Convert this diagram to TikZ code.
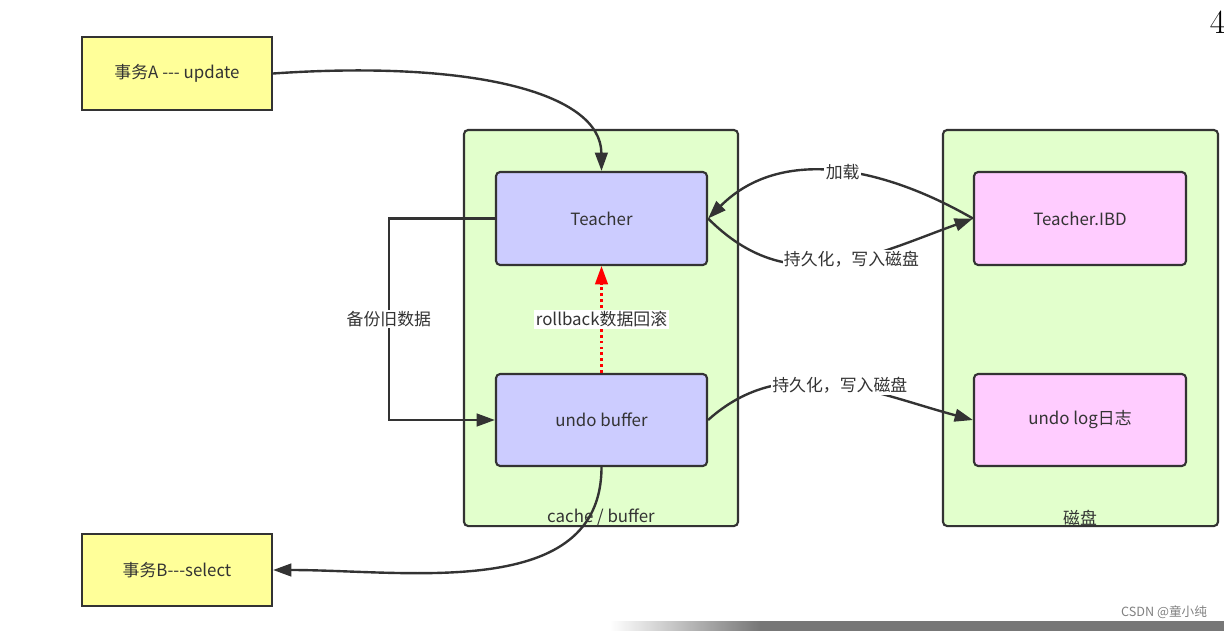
\documentclass[tikz,border=0pt]{standalone}
\usepackage{fontspec}
\newfontfamily\cjk{Noto Sans CJK SC}
\usepackage{xcolor}
\usepackage{tikz}
\usetikzlibrary{arrows.meta, positioning}
\definecolor{linegray}{HTML}{333333}
\definecolor{txtgray}{HTML}{333333}
\definecolor{memgreen}{HTML}{E2FFCC}
\definecolor{pagelila}{HTML}{CCCCFF}
\definecolor{diskpink}{HTML}{FFCCFF}
\definecolor{txyellow}{HTML}{FFFF99}
\definecolor{bargray}{HTML}{777777}

\begin{document}
\begin{tikzpicture}[x=0.025cm, y=-0.025cm, >={Triangle[length=13pt,width=9pt]},
    font=\cjk\fontsize{12}{14}\selectfont, text=txtgray,
    conn/.style={->, draw=linegray, line width=1.7pt},
    lbl/.style={fill=white, inner sep=1pt, text=txtgray}]
  \useasboundingbox (0,0) rectangle (1224,631);
  % containers
  \node[draw=linegray, fill=memgreen, line width=1.5pt, rounded corners=3pt,
        minimum width=6.85cm, minimum height=9.9cm] (cache) at (601,328) {};
  \node[draw=linegray, fill=memgreen, line width=1.5pt, rounded corners=3pt,
        minimum width=6.875cm, minimum height=9.9cm] (disk) at (1080.5,328) {};
  \node (cachelbl) at (601,517) {cache / buffer};
  \node (disklbl) at (1080,518) {磁盘};
  % transactions
  \node[draw=linegray, fill=txyellow, line width=1.5pt,
        minimum width=4.75cm, minimum height=1.825cm] (ta) at (177,73.5) {事务A --- update};
  \node[draw=linegray, fill=txyellow, line width=1.5pt,
        minimum width=4.75cm, minimum height=1.8cm] (tb) at (177,570) {事务B---select};
  % pages in memory and on disk
  \node[draw=linegray, fill=pagelila, line width=1.5pt, rounded corners=3pt,
        minimum width=5.275cm, minimum height=2.325cm] (teacher) at (601.5,218.5) {Teacher};
  \node[draw=linegray, fill=pagelila, line width=1.5pt, rounded corners=3pt,
        minimum width=5.275cm, minimum height=2.3cm] (undo) at (601.5,420) {undo buffer};
  \node[draw=linegray, fill=diskpink, line width=1.5pt, rounded corners=3pt,
        minimum width=5.3cm, minimum height=2.325cm] (ibd) at (1080,218.5) {Teacher.IBD};
  \node[draw=linegray, fill=diskpink, line width=1.5pt, rounded corners=3pt,
        minimum width=5.3cm, minimum height=2.3cm] (ulog) at (1080,420) {undo log日志};
  % A -> Teacher, undo -> B
  \draw[conn] (ta.east) .. controls (470,60) and (601,92) .. (teacher.north);
  \draw[conn] (undo.south) to[out=-90, in=0] (tb.east);
  % backup and rollback
  \draw[conn] (teacher.west) -- ++(-106,0) |- node[lbl, pos=0.25]{备份旧数据} (undo.west);
  \draw[->, red, line width=1.6pt, dash pattern=on 2pt off 2.2pt] (undo.north)
    -- node[lbl]{rollback数据回滚} (teacher.south);
  % load and flush
  \draw[conn] (ibd.west) to[out=150, in=45] node[lbl, pos=0.47]{加载} (teacher.east);
  \draw[conn] (teacher.east) to[out=-45, in=200, looseness=1.1]
    node[lbl, pos=0.58]{持久化，写入磁盘} (ibd.west);
  \draw[conn] (undo.east) to[out=42, in=165] node[lbl, pos=0.53]{持久化，写入磁盘} (ulog.west);
  % page number and footer
  \node[font=\normalfont\fontsize{24}{26}\selectfont, text=black, anchor=west] (pgno) at (1205,22) {4};
  \shade[left color=white, right color=bargray] (610,621) rectangle (760,631);
  \fill[bargray] (760,621) rectangle (1224,631);
  \node[font=\cjk\fontsize{9}{10}\selectfont, text=gray, anchor=east] (wm) at (1212,612) {CSDN @童小纯};
\end{tikzpicture}
\end{document}
